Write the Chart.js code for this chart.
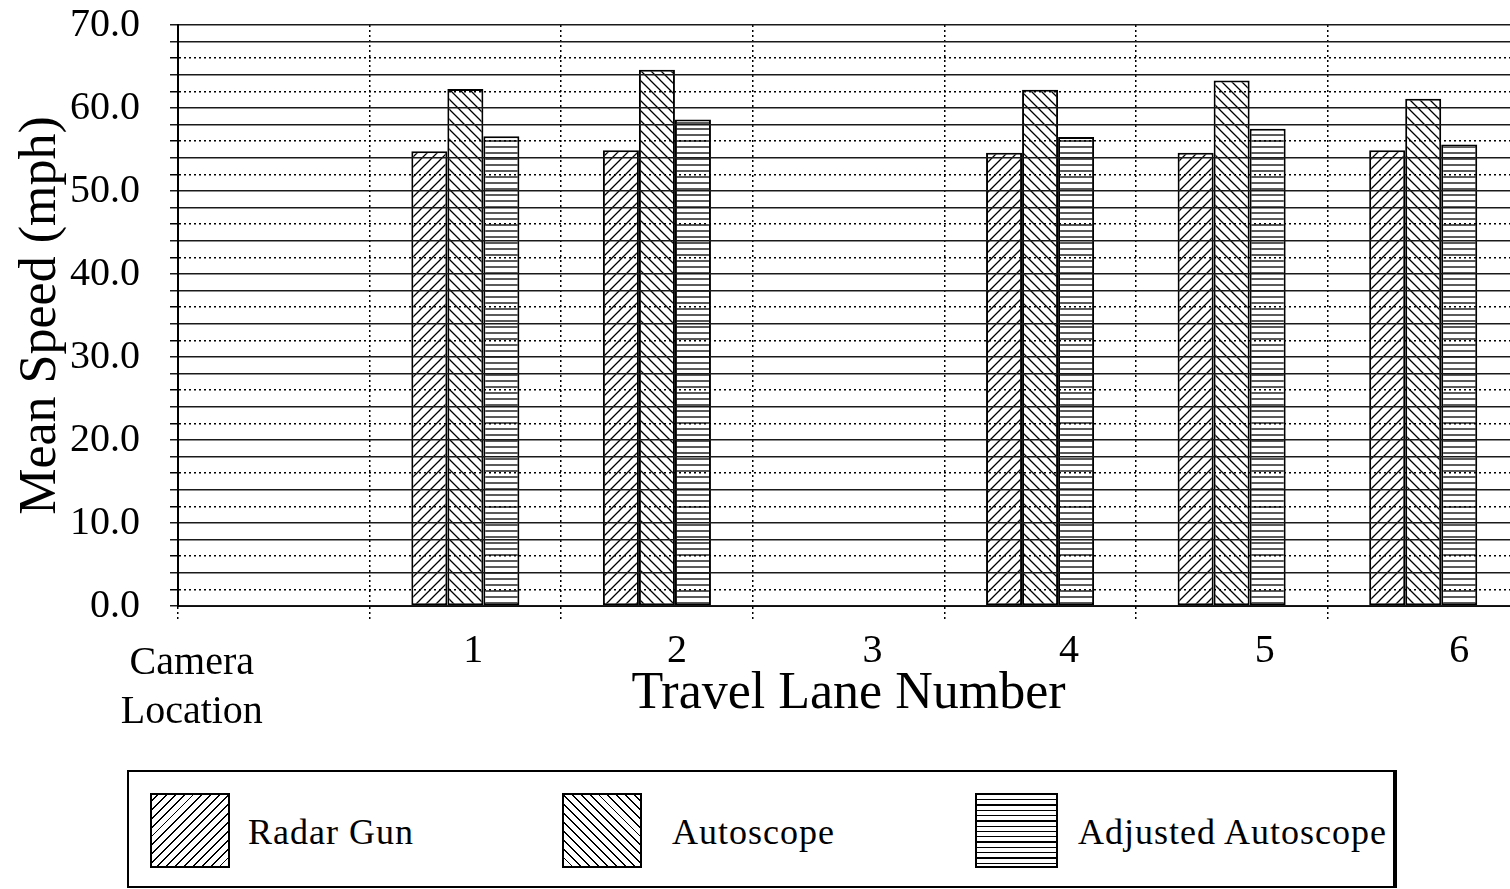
<!DOCTYPE html>
<html>
<head>
<meta charset="utf-8">
<script src="https://cdn.jsdelivr.net/npm/chart.js@4.4.1/dist/chart.umd.min.js"></script>
<style>
  html, body { margin: 0; padding: 0; background: #fff; overflow: hidden; width: 1510px; height: 889px; }
  #wrap { position: absolute; left: 0; top: 0; width: 1525px; height: 740px; }
  #legend {
    position: absolute; left: 127px; top: 770px; width: 1270px; height: 118px;
    box-sizing: border-box; border: 2px solid #000; border-right-width: 4px; background: #fff;
    font-family: "Liberation Serif", "Times New Roman", serif; font-size: 36px; letter-spacing: 1px; color: #000;
  }
  .sw { position: absolute; top: 21px; width: 80px; height: 75px; box-sizing: border-box; border: 2px solid #000; }
  .lb { position: absolute; top: 40px; line-height: 40px; white-space: nowrap; }
  .radar { background: repeating-linear-gradient(-45deg, #fff 0 5px, #000 5px 6.3px); }
  .auto { background: repeating-linear-gradient(45deg, #fff 0 5px, #000 5px 6.3px); }
  .adj { background: repeating-linear-gradient(180deg, #fff 0 4px, #000 4px 5.3px); }
</style>
</head>
<body>
<div id="wrap"><canvas id="chartSpeed" width="1525" height="740"></canvas></div>
<div id="legend">
  <div class="sw radar" style="left:21px"></div><div class="lb" style="left:119px">Radar Gun</div>
  <div class="sw auto" style="left:433px"></div><div class="lb" style="left:543px">Autoscope</div>
  <div class="sw adj" style="left:846px;width:83px"></div><div class="lb" style="left:949px">Adjusted Autoscope</div>
</div>
<script>
  // Datos
  const categories = [['Camera', 'Location'], '1', '2', '3', '4', '5', '6'];
  const radarGun = [null, 54.8, 54.9, null, 54.6, 54.6, 54.9];
  const autoscope = [null, 62.3, 64.6, null, 62.2, 63.3, 61.1];
  const adjustedAutoscope = [null, 56.6, 58.6, null, 56.5, 57.5, 55.6];
  const yMin = 0, yMax = 70, yStep = 2, yLabelStep = 10;

  const FONT = '"Liberation Serif", "Times New Roman", serif';
  // desplazamiento horizontal de las etiquetas del eje x (estilo)
  const labelShift = [-82, 8, 20, 24, 29, 33, 36];

  // Patrones de rayado
  function hatch(kind) {
    const c = document.createElement('canvas');
    const s = kind === 'h' ? 6 : 10;
    c.width = s; c.height = s;
    const g = c.getContext('2d');
    g.fillStyle = '#fff';
    g.fillRect(0, 0, s, s);
    g.strokeStyle = '#000';
    g.lineWidth = 1.3;
    g.beginPath();
    if (kind === '/') {
      g.moveTo(-1, s + 1); g.lineTo(s + 1, -1);
      g.moveTo(-1, 1); g.lineTo(1, -1);
      g.moveTo(s - 1, s + 1); g.lineTo(s + 1, s - 1);
    } else if (kind === '\\') {
      g.moveTo(-1, -1); g.lineTo(s + 1, s + 1);
      g.moveTo(s - 1, -1); g.lineTo(s + 1, 1);
      g.moveTo(-1, s - 1); g.lineTo(1, s + 1);
    } else {
      g.moveTo(0, 3); g.lineTo(s, 3);
    }
    g.stroke();
    return g.createPattern(c, 'repeat');
  }

  // Etiquetas del eje x
  const xLabels = {
    id: 'xLabels',
    afterDraw(chart) {
      const ctx = chart.ctx, sx = chart.scales.x, bottom = chart.chartArea.bottom;
      ctx.save();
      ctx.font = '40px ' + FONT;
      ctx.fillStyle = '#000';
      ctx.textAlign = 'center';
      ctx.textBaseline = 'middle';
      categories.forEach((lab, i) => {
        const x = sx.getPixelForValue(i) + labelShift[i];
        if (Array.isArray(lab)) {
          lab.forEach((t, k) => ctx.fillText(t, x, bottom + 57 + k * 49));
        } else {
          ctx.fillText(lab, x, bottom + 45);
        }
      });
      ctx.restore();
    }
  };

  const isDotted = v => { const m = ((v % 10) + 10) % 10; return m === 2 || m === 6; };

  new Chart(document.getElementById('chartSpeed'), {
    type: 'bar',
    data: {
      labels: categories,
      datasets: [
        { label: 'Radar Gun', data: radarGun, backgroundColor: hatch('/') },
        { label: 'Autoscope', data: autoscope, backgroundColor: hatch('\\') },
        { label: 'Adjusted Autoscope', data: adjustedAutoscope, backgroundColor: hatch('h') }
      ]
    },
    options: {
      responsive: false,
      animation: false,
      devicePixelRatio: 1,
      layout: { padding: { top: 0, right: 6, bottom: 0, left: 0 } },
      datasets: {
        bar: {
          borderColor: '#000',
          borderWidth: 2,
          borderSkipped: false,
          categoryPercentage: 0.564,
          barPercentage: 1
        }
      },
      plugins: { legend: { display: false }, tooltip: { enabled: false } },
      scales: {
        x: {
          afterFit(scale) { scale.height = 134; },
          ticks: { display: false },
          grid: {
            offset: true,
            color: '#000',
            lineWidth: 1.5,
            tickLength: 16,
            tickBorderDash: [2, 3],
            z: 1
          },
          border: { display: true, color: '#000', width: 2, dash: [2, 3], z: 1 },
          title: {
            display: true,
            text: 'Travel Lane Number',
            color: '#000',
            font: { family: FONT, size: 52, lineHeight: 1.2 },
            padding: { top: 0, bottom: 14 }
          }
        },
        y: {
          min: yMin,
          max: yMax,
          afterFit(scale) {
            scale.width = 178;
            scale.paddingTop = 25;
            scale.paddingBottom = 0;
          },
          ticks: {
            stepSize: yStep,
            autoSkip: false,
            padding: 30,
            color: '#000',
            font: { family: FONT, size: 40 },
            callback: v => (v % yLabelStep === 0 ? v.toFixed(1) : '')
          },
          grid: {
            color: ctx => (ctx.tick && isDotted(ctx.tick.value) ? '#000' : '#1a1a1a'),
            lineWidth: 1.5,
            tickLength: 8,
            z: 1
          },
          border: {
            display: true,
            color: '#000',
            width: 2,
            z: 1,
            dash: ctx => (ctx.tick && isDotted(ctx.tick.value) ? [2, 3] : [])
          },
          title: {
            display: true,
            text: 'Mean Speed (mph)',
            color: '#000',
            font: { family: FONT, size: 52, lineHeight: 1.2 },
            padding: { top: 10, bottom: 0 }
          }
        }
      }
    },
    plugins: [xLabels]
  });
</script>
</body>
</html>
